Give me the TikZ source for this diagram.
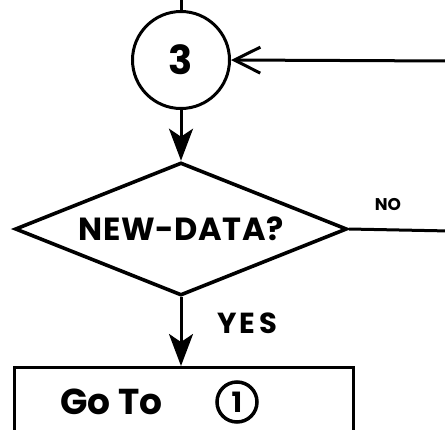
\documentclass[tikz,border=0pt]{standalone}
\usepackage{fontspec}
\setmainfont{Poppins}
\usetikzlibrary{shapes.geometric,arrows.meta}
\begin{document}
\begin{tikzpicture}[x=1pt,y=-1pt,
  ink/.style={line width=3pt,draw=black},
  thick ink/.style={line width=3.6pt,draw=black},
  flow/.style={ink,-{Stealth[length=32pt,width=24pt,inset=8pt]}},
  inflow/.style={ink,-{Straight Barb[length=26pt,width=26pt,line width=3pt]}},
  lettering/.style={inner sep=0pt,font=\bfseries\fontsize{#1}{#1}\selectfont}]
\useasboundingbox (0,0) rectangle (445,429);
\clip (0,0) rectangle (445,429);

% connector and decision nodes
\node[circle,ink,minimum size=97pt,inner sep=0pt,lettering=40] (c3) at (181,60) {3};
\node[diamond,thick ink,aspect=2.5,minimum width=332pt,minimum height=133pt,inner sep=0pt,
      lettering=32] (nd) at (181,229) {\addfontfeature{LetterSpace=2}NEW-DATA?};
\node[rectangle,ink,anchor=north west,minimum width=339pt,minimum height=140pt] (go) at (13,366) {};

% box text
\node[lettering=36,anchor=base west] (golbl) at (60,414) {Go To};
\node[circle,draw,line width=3.5pt,inner sep=2pt,minimum size=40pt,
      lettering=28] (one) at (237,402) {1};

% free ends
\coordinate (top) at (181,-5);
\coordinate (from) at (450,61);
\coordinate (noend) at (450,231);

% connectors
\draw[ink] (top) -- (c3.north);
\draw[inflow] (from) -- (c3.east);
\draw[flow] (c3.south) -- (nd.north);
\draw[ink] (nd.east) -- (noend);
\draw[flow] (nd.south) -- (go.north -| nd.south);

% branch labels
\node[lettering=17] at (388,205) {NO};
\node[lettering=29] at (247,323) {\addfontfeature{LetterSpace=12}YES};
\end{tikzpicture}
\end{document}
